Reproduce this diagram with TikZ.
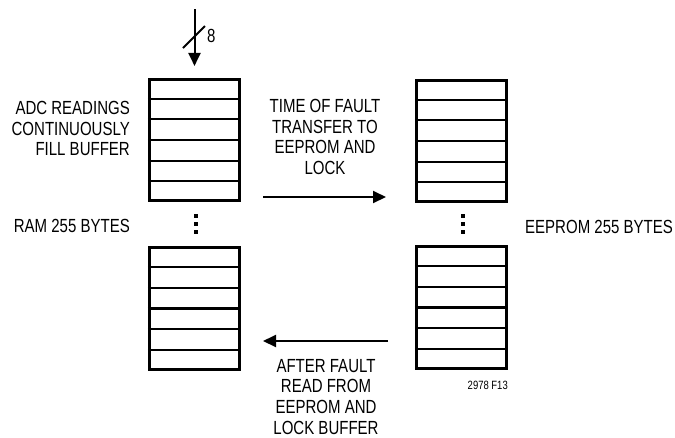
\documentclass[tikz,border=0pt]{standalone}
\usepackage{fontspec}
\setmainfont{Liberation Sans}[FakeStretch=0.79]
\usetikzlibrary{calc, positioning, arrows.meta}

\newcommand{\bufrows}[1]{%
  \foreach \k in {1,...,5}
    \draw[rowline] ($(#1.north west)!\k/6!(#1.south west)$) -- ($(#1.north east)!\k/6!(#1.south east)$);}

\tikzset{
    faultlog/.style={
        x=1pt, y=-1pt,
        font=\fontsize{19}{20.6}\selectfont,
        buffer/.style={draw, rectangle, line width=2.6pt, minimum width=90.5pt, minimum height=121.5pt, inner sep=0pt},
        rowline/.style={line width=2.2pt},
        arrow/.style={line width=2pt, -{Triangle[length=13pt,width=12pt]}},
        label_text/.style={inner sep=0pt},
        byte_dot/.style={rectangle, fill=black, minimum size=3.4pt, inner sep=0pt}
    }
}

\begin{document}
\begin{tikzpicture}[faultlog]
        \useasboundingbox (0,0) rectangle (675,437);

        % RAM buffer, two halves
        \node[buffer] (ramtop) at (194.5,140) {};
        \node[buffer] (ramlow) at (194.5,308.5) {};
        \bufrows{ramtop}
        \bufrows{ramlow}

        % EEPROM buffer, two halves
        \node[buffer] (eeptop) at (461.5,141) {};
        \node[buffer] (eeplow) at (461.5,307.5) {};
        \bufrows{eeptop}
        \bufrows{eeplow}

        % dots between halves
        \foreach \i/\y in {1/216, 2/224, 3/232} {
            \node[byte_dot] (ramdot\i) at (196,\y) {};
            \node[byte_dot] (eepdot\i) at (463,\y) {};
        }

        % 8 bit input bus
        \coordinate (adcin) at (194.5,9);
        \draw[arrow] (adcin) -- ([yshift=12pt]ramtop.north);
        \draw[line width=1.8pt] (183,48) -- (205,26);
        \node[label_text, anchor=base west] (buswidth) at (207,42) {8};

        % transfer arrows
        \coordinate (fwdA) at (263,197);
        \coordinate (fwdB) at (386,197);
        \draw[arrow] (fwdA) -- (fwdB);
        \coordinate (backA) at (388,341);
        \coordinate (backB) at (263,341);
        \draw[arrow] (backA) -- (backB);

        % labels
        \node[label_text, align=right, anchor=north east] (adctext) at (130,101) {ADC READINGS\\CONTINUOUSLY\\FILL BUFFER};
        \node[label_text, anchor=base east] (ramsize) at (130,232) {RAM 255 BYTES};
        \node[label_text, anchor=base west] (eepsize) at (525,233) {EEPROM 255 BYTES};
        \node[label_text, align=center, anchor=north] (fwdtext) at (325,99) {TIME OF FAULT\\TRANSFER TO\\EEPROM AND\\LOCK};
        \node[label_text, align=center, anchor=north] (backtext) at (326,359) {AFTER FAULT\\READ FROM\\EEPROM AND\\LOCK BUFFER};
        \node[label_text, anchor=base east, font=\fontsize{12}{14}\selectfont] (figno) at (508,389) {2978 F13};

    \end{tikzpicture}
\end{document}
